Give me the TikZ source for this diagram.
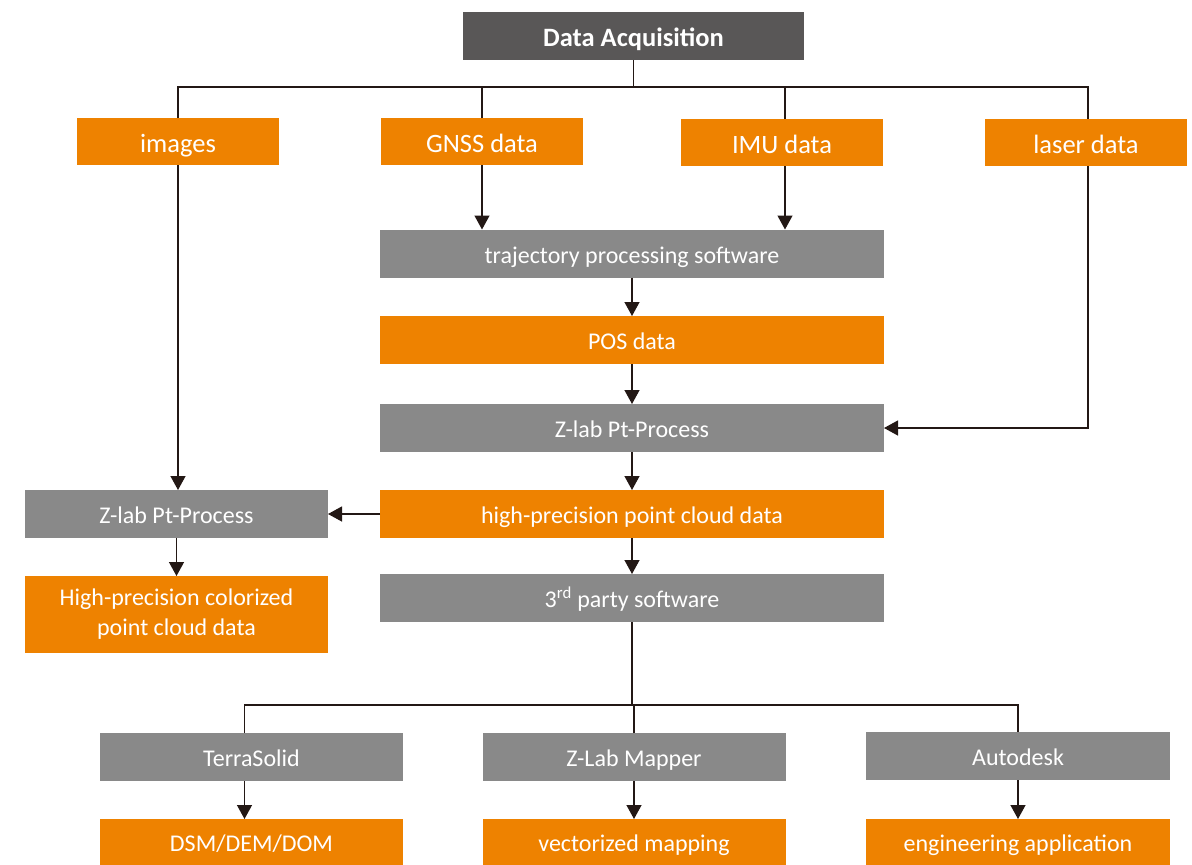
\documentclass[tikz,border=0pt]{standalone}
\usepackage{fontspec}
\setmainfont{Carlito}
\usetikzlibrary{arrows.meta}
\definecolor{acqgray}{HTML}{595757}
\definecolor{procgray}{HTML}{898989}
\definecolor{dataorange}{HTML}{EE8200}
\definecolor{linedark}{HTML}{231815}

\begin{document}
\begin{tikzpicture}[x=1pt, y=-1pt, >={Triangle[length=14pt, width=15pt]},
  link/.style={draw=linedark, line width=1.3pt},
  box/.style={inner sep=0pt, outer sep=0pt, text=white, align=center,
    font=\fontsize{24}{30}\selectfont},
  one/.style={text height=19pt, text depth=0pt},
  data/.style={box, fill=dataorange},
  proc/.style={box, fill=procgray},
  wide/.style={one, minimum width=504pt, minimum height=48pt},
  half/.style={one, minimum width=303pt, minimum height=48pt},
  small/.style={one, minimum width=202pt, minimum height=47pt,
    font=\fontsize{26.5}{30}\selectfont, text height=21pt}]
  \useasboundingbox (0,0) rectangle (1192,865);
  % source
  \node[box, one, fill=acqgray, minimum width=341pt, minimum height=48pt, text height=21pt,
    font=\fontsize{26.5}{30}\selectfont\bfseries] (acq) at (633.5,36) {Data Acquisition};
  \node[data, small] (images) at (178,141.5) {images};
  \node[data, small] (gnss) at (482,141.5) {GNSS data};
  \node[data, small] (imu) at (782,142.5) {IMU data};
  \node[data, small] (laser) at (1086,142.5) {laser data};
  % main chain
  \node[proc, wide] (traj) at (632,253.5) {trajectory processing software};
  \node[data, wide] (pos) at (632,340) {POS data};
  \node[proc, wide] (zlab) at (632,428) {Z-lab Pt-Process};
  \node[data, wide] (cloud) at (632,514) {high-precision point cloud data};
  \node[proc, wide] (third) at (632,598) {3\textsuperscript{rd} party software};
  % colour branch
  \node[proc, half] (zlabc) at (176.5,514) {Z-lab Pt-Process};
  \node[data, minimum width=303pt, minimum height=77pt] (color) at (176.5,614.5)
    {High-precision colorized\\point cloud data};
  % products
  \node[proc, half] (terra) at (251.5,757) {TerraSolid};
  \node[proc, half] (mapper) at (634,757) {Z-Lab Mapper};
  \node[proc, half, minimum width=304pt] (autodesk) at (1018,756) {Autodesk};
  \node[data, half, minimum height=46pt] (dsm) at (251.5,842) {DSM/DEM/DOM};
  \node[data, half, minimum height=46pt] (vect) at (634,842) {vectorized mapping};
  \node[data, half, minimum width=304pt, minimum height=46pt] (eng) at (1018,842) {engineering application};

  \coordinate (topbus) at (633.5,87);
  \coordinate (botbus) at (632,705);
  \draw[link] (acq) -- (topbus);
  \draw[link] (images.north) |- (topbus) -| ([xshift=2pt]laser.north);
  \draw[link] (gnss.north) -- (gnss |- topbus);
  \draw[link] ([xshift=3pt]imu.north) -- ([xshift=3pt]imu.north |- topbus);
  \draw[link, ->] (gnss) -- (gnss |- traj.north);
  \draw[link, ->] ([xshift=3pt]imu.south) -- ([xshift=3pt]imu.south |- traj.north);
  \draw[link, ->] (traj) -- (pos);
  \draw[link, ->] (pos) -- (zlab);
  \draw[link, ->] ([xshift=2pt]laser.south) |- (zlab.east);
  \draw[link, ->] (zlab) -- (cloud);
  \draw[link, ->] (cloud) -- (third);
  \draw[link, ->] (images.south) -- (images.south |- zlabc.north);
  \draw[link, ->] (cloud) -- (zlabc);
  \draw[link, ->] (zlabc) -- (zlabc |- color.north);
  \draw[link] (third) -- (botbus);
  \draw[link] ([xshift=-7pt]terra.north) |- (botbus) -| (autodesk.north);
  \draw[link] (mapper.north) -- (mapper |- botbus);
  \draw[link, ->] ([xshift=-7pt]terra.south) -- ([xshift=-7pt]dsm.north);
  \draw[link, ->] (mapper) -- (vect);
  \draw[link, ->] (autodesk) -- (eng);
\end{tikzpicture}
\end{document}
